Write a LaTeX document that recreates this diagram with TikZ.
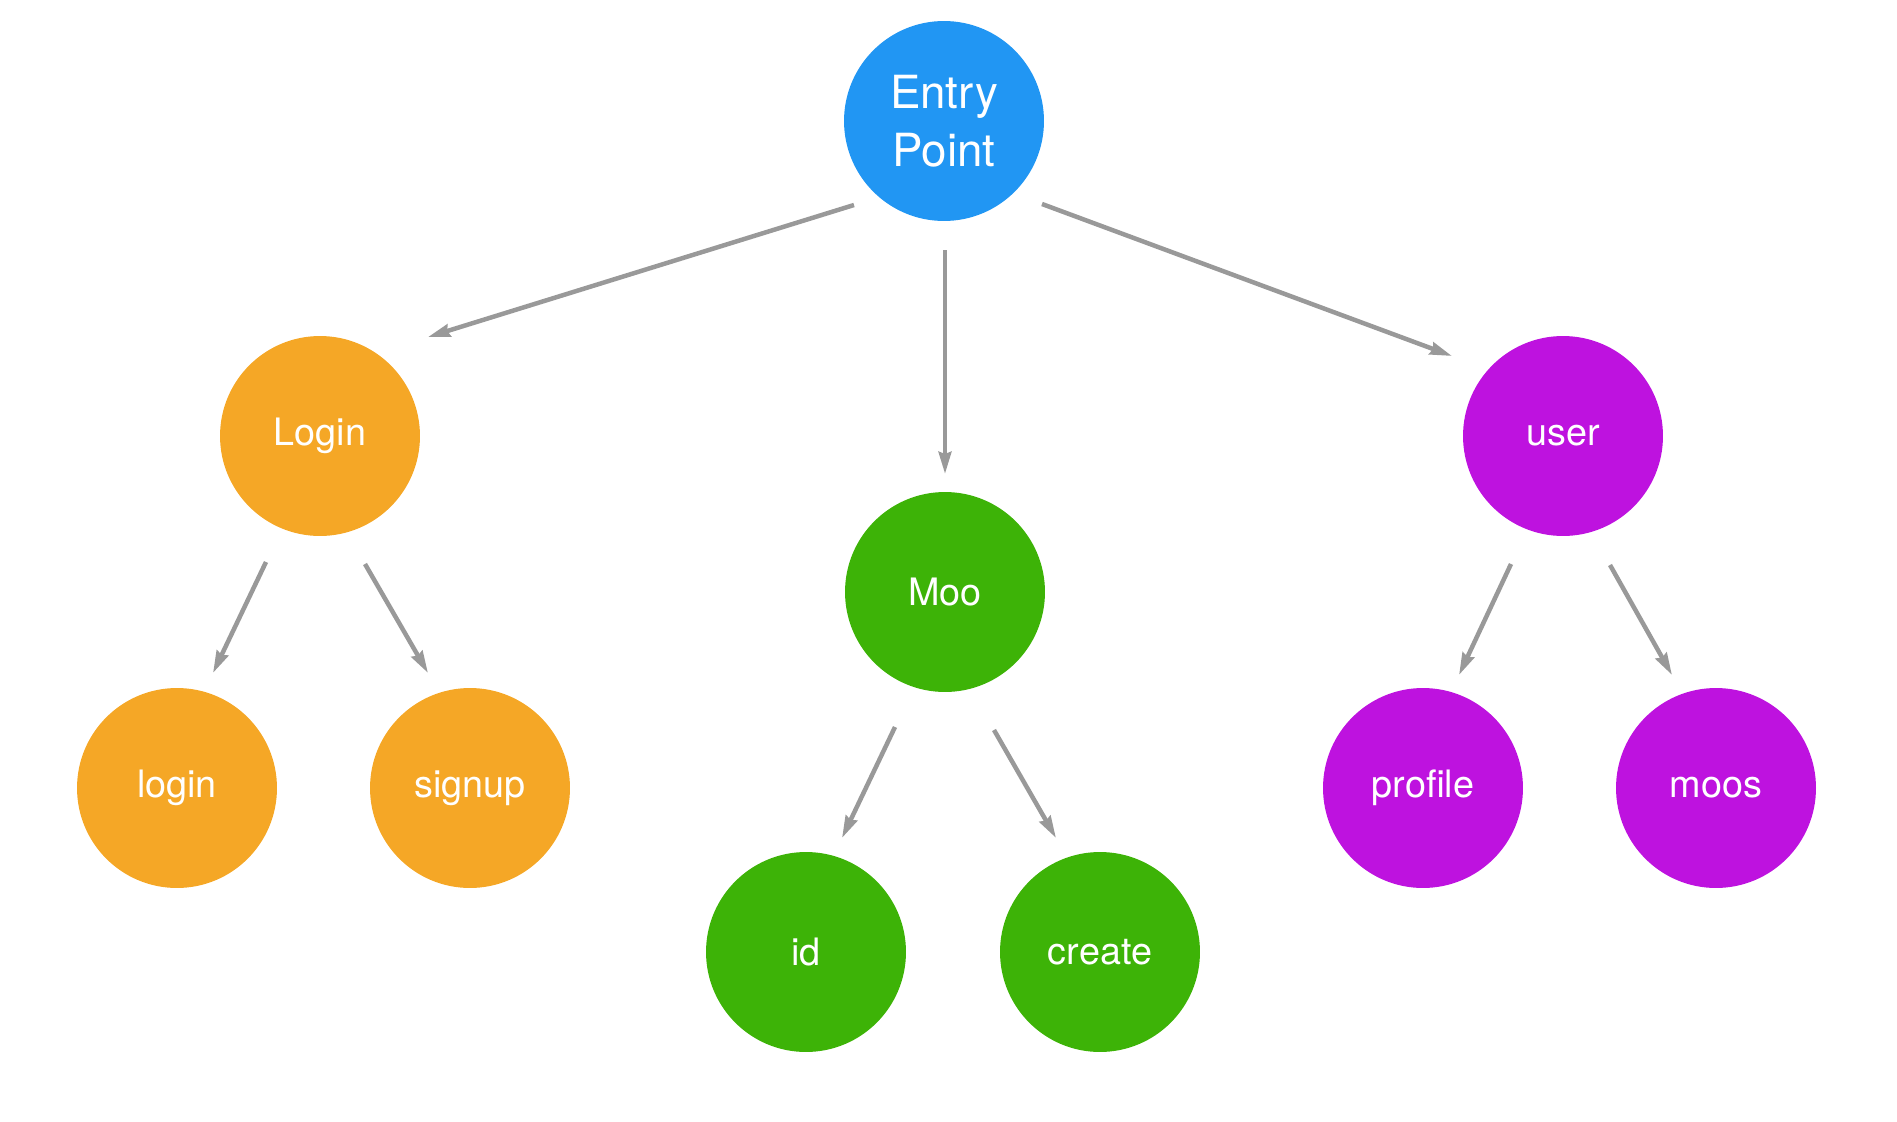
\documentclass[tikz,border=0pt]{standalone}
\usepackage{fontspec}
\setmainfont{TeX Gyre Heros}
\usetikzlibrary{arrows.meta}
\definecolor{entryblue}{HTML}{2196F3}
\definecolor{loginorange}{HTML}{F5A726}
\definecolor{moogreen}{HTML}{3DB307}
\definecolor{userpurple}{HTML}{BE12DF}
\definecolor{arrgray}{HTML}{999999}
\begin{document}
\begin{tikzpicture}[x=0.02cm,y=-0.02cm]
\tikzstyle{every node}=[shape=circle,minimum size=4cm,inner sep=0pt,text=white,font=\fontsize{21.5}{26}\selectfont];
\tikzstyle{arr}=[draw=arrgray,line width=0.9mm,-{Stealth[length=4.4mm,width=2.5mm,inset=0.4mm]}];
\useasboundingbox (0,0) rectangle (1897,1122);
\path (944,121) node[fill=entryblue,align=center,font=\fontsize{26}{33}\selectfont] (v0) {Entry\\Point};
\path (320,436) node[fill=loginorange] (v1) {Login};
\path (945,592) node[fill=moogreen] (v2) {Moo};
\path (1563,436) node[fill=userpurple] (v3) {user};
\path (177,788) node[fill=loginorange] (v4) {login};
\path (470,788) node[fill=loginorange] (v5) {signup};
\path (806,952) node[fill=moogreen] (v6) {id};
\path (1100,952) node[fill=moogreen] (v7) {create};
\path (1423,788) node[fill=userpurple] (v8) {profile};
\path (1716,788) node[fill=userpurple] (v9) {moos};
\draw[arr] ([shift={(-90,84)}]v0.center) -- ([shift={(108,-99)}]v1.center);
\draw[arr] ([shift={(1,129)}]v0.center) -- ([shift={(0,-118)}]v2.center);
\draw[arr] ([shift={(98,83)}]v0.center) -- ([shift={(-111,-80)}]v3.center);
\draw[arr] ([shift={(-54,126)}]v1.center) -- ([shift={(36,-115)}]v4.center);
\draw[arr] ([shift={(45,128)}]v1.center) -- ([shift={(-42,-115)}]v5.center);
\draw[arr] ([shift={(-50,135)}]v2.center) -- ([shift={(36,-114)}]v6.center);
\draw[arr] ([shift={(49,138)}]v2.center) -- ([shift={(-44,-114)}]v7.center);
\draw[arr] ([shift={(-52,128)}]v3.center) -- ([shift={(36,-113)}]v8.center);
\draw[arr] ([shift={(47,129)}]v3.center) -- ([shift={(-44,-113)}]v9.center);
\end{tikzpicture}
\end{document}
